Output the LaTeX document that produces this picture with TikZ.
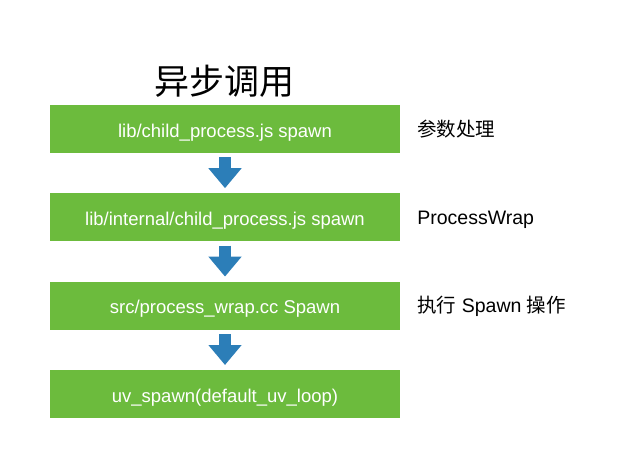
\documentclass[tikz,border=0pt]{standalone}
\usepackage{fontspec}
\setmainfont{Liberation Sans}
\newfontfamily\cjk{Noto Sans CJK SC}
\usetikzlibrary{positioning,arrows.meta}
\definecolor{boxgreen}{RGB}{108,187,61}
\definecolor{arrowblue}{RGB}{44,126,184}

\begin{document}
\begin{tikzpicture}[
            x = 1pt, y = -1pt,
            node distance = 40pt,
            stage/.style={
                fill = boxgreen,
                text = white,
                minimum width = 350pt,
                minimum height = 48pt,
                text height = 18pt,
                text depth = 2pt,
                font = \fontsize{18.5}{22}\selectfont
            },
            note/.style={
                inner sep = 0pt,
                text height = 16pt,
                text depth = 2pt,
                font = \fontsize{19.5}{23}\selectfont
            },
            flow/.style={
                arrowblue,
                line width = 12pt,
                -{Triangle[width=32pt,length=20pt]},
                shorten <= 4pt,
                shorten >= 5pt
            }
        ]
        \useasboundingbox (0,0) rectangle (623,468);

        \node[font=\cjk\fontsize{35}{40}\selectfont] (title) at (224,81) {异步调用};

        \node[stage] (spawn_js) at (225,129) {lib/child\_process.js spawn};
        \node[stage, below=of spawn_js] (internal_js) {lib/internal/child\_process.js spawn};
        \node[stage, below=of internal_js] (wrap_cc) {src/process\_wrap.cc Spawn};
        \node[stage, below=of wrap_cc] (uv_spawn) {uv\_spawn(default\_uv\_loop)};

        \node[note, right=17pt of spawn_js] (args) {\cjk 参数处理};
        \node[note, right=17pt of internal_js] (wrap) {ProcessWrap};
        \node[note, right=17pt of wrap_cc] (exec) {{\cjk 执行} Spawn {\cjk 操作}};

        \draw[flow] (spawn_js) -- (internal_js);
        \draw[flow] (internal_js) -- (wrap_cc);
        \draw[flow] (wrap_cc) -- (uv_spawn);
    \end{tikzpicture}
\end{document}
